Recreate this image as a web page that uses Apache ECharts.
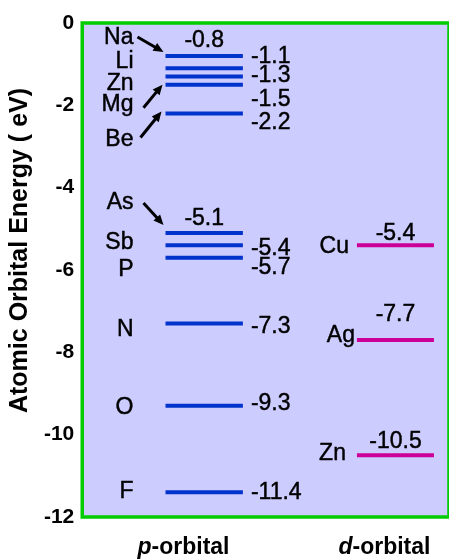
<!DOCTYPE html>
<html><head><meta charset="utf-8">
<script src="https://cdn.jsdelivr.net/npm/echarts@6/dist/echarts.min.js"></script>
<style>html,body{margin:0;padding:0;background:#fff}#c{width:449px;height:559px}</style>
</head><body><div id="c"></div>
<script>
// ---- data ----
const pElements = ['Na', 'Li', 'Zn', 'Mg', 'Be', 'As', 'Sb', 'P', 'N', 'O', 'F'];
const pEnergies = [-0.8, -1.1, -1.3, -1.5, -2.2, -5.1, -5.4, -5.7, -7.3, -9.3, -11.4];
const dElements = ['Cu', 'Ag', 'Zn'];
const dEnergies = [-5.4, -7.7, -10.5];
const orbitalLabels = ['p-orbital', 'd-orbital'];
const yMin = -12, yMax = 0, yStep = 2;

// ---- layout (positions / offsets, not data) ----
const FONT = '"Liberation Sans", Arial, Helvetica, sans-serif';
const X_MAX = 100;
const P_SPAN = [22.7, 43.8];
const D_SPAN = [74.9, 95.9];
const ORBITAL_LABEL_X = [27.6, 82.4];
const P_COLOR = '#0033cc', D_COLOR = '#cc0099';
const LABEL_SIZE = 23;
// name label: [dx from line start, dy from line]
const pNameOff = [[-32,-18],[-32,-6.4],[-32,7.4],[-32,20],[-32,26],[-32,-30],[-32,-3],[-32,12],[-32,6],[-32,2],[-32,-1]];
const dNameOff = [[-8,1],[-2,-4.6],[-11,-2]];
// value label: [placement, dy]
const pValueOff = [['top',-15],['right',-11.4],['right',-0.6],['right',15],['right',9],['top',-14.4],['right',3],['right',10],['right',3],['right',-2.6],['right',0.75]];
const dValueOff = [['top',-11.75],['top',-25.6],['top',-14]];
// arrows: element index -> [tipDx, tipDy, tailDx, tailDy] relative to line start
const pArrows = {0:[-2,-4,-28,-19], 3:[-3,0,-22,23], 4:[-4,-2,-25,24], 5:[-2,-8,-22,-30]};

function textStyle(text, x, y, align) {
  return {text: text, x: x, y: y, align: align, verticalAlign: 'middle', fontSize: LABEL_SIZE,
          fontFamily: FONT, fill: '#000', stroke: '#000', lineWidth: 0.45};
}

function arrowShapes(tip, tail) {
  const dx = tip[0]-tail[0], dy = tip[1]-tail[1];
  const len = Math.sqrt(dx*dx+dy*dy), ux = dx/len, uy = dy/len;
  const hl = 10, hw = 4.5;
  const base = [tip[0]-ux*hl, tip[1]-uy*hl];
  return [
    {type:'line', shape:{x1:tail[0], y1:tail[1], x2:base[0]+ux*2, y2:base[1]+uy*2}, style:{stroke:'#000', lineWidth:3}},
    {type:'polygon', shape:{points:[tip, [base[0]-uy*hw, base[1]+ux*hw], [base[0]+uy*hw, base[1]-ux*hw]]}, style:{fill:'#000'}}
  ];
}

function makeRender(span, names, nameOff, valueOff, color, arrows) {
  return function (params, api) {
    const i = params.dataIndex;
    const v = api.value(0);
    const a = api.coord([span[0], v]);
    const b = api.coord([span[1], v]);
    const ch = [{type:'line', shape:{x1:a[0], y1:a[1], x2:b[0], y2:b[1]}, style:{stroke:color, lineWidth:4}}];
    ch.push({type:'text', style: textStyle(names[i], a[0]+nameOff[i][0], a[1]+nameOff[i][1], 'right')});
    const vo = valueOff[i];
    if (vo[0] === 'top') {
      ch.push({type:'text', style: textStyle(String(v), (a[0]+b[0])/2, a[1]+vo[1], 'center')});
    } else {
      ch.push({type:'text', style: textStyle(String(v), b[0]+8, a[1]+vo[1], 'left')});
    }
    if (arrows && arrows[i]) {
      const ar = arrows[i];
      arrowShapes([a[0]+ar[0], a[1]+ar[1]], [a[0]+ar[2], a[1]+ar[3]]).forEach(s => ch.push(s));
    }
    return {type:'group', children:ch};
  };
}

const chart = echarts.init(document.getElementById('c'), null, {renderer:'canvas'});
chart.setOption({
  animation: false,
  grid: {left: 81.5, right: -3, top: 23, bottom: 41, show: true, backgroundColor: '#ccccff', borderColor: '#00cc00', borderWidth: 3.5},
  xAxis: {
    type: 'value', min: 0, max: X_MAX,
    axisLine: {show: false}, axisTick: {show: false}, splitLine: {show: false},
    axisLabel: {
      customValues: ORBITAL_LABEL_X, margin: 19, color: '#000',
      formatter: function (val) {
        const idx = ORBITAL_LABEL_X.indexOf(val);
        const t = orbitalLabels[idx < 0 ? 0 : idx];
        return '{i|' + t.charAt(0) + '}{n|' + t.slice(1) + '}';
      },
      rich: {
        i: {fontStyle: 'italic', fontWeight: 'bold', fontSize: 23, fontFamily: FONT, color: '#000'},
        n: {fontWeight: 'bold', fontSize: 23, fontFamily: FONT, color: '#000'}
      }
    }
  },
  yAxis: {
    type: 'value', min: yMin, max: yMax, interval: yStep,
    axisLine: {show: false}, axisTick: {show: false}, splitLine: {show: false},
    axisLabel: {margin: 8, color: '#000', fontWeight: 'bold', fontSize: 21, fontFamily: FONT},
    name: 'Atomic Orbital Energy ( eV)', nameLocation: 'middle', nameGap: 40,
    nameTextStyle: {color: '#000', fontWeight: 'bold', fontSize: 25, fontFamily: FONT, padding: [0, 0, 0, 39]}
  },
  series: [
    {type: 'custom', name: 'p-orbital', coordinateSystem: 'cartesian2d', dimensions: ['energy'], encode: {y: 0},
     data: pEnergies.map(e => [e]), clip: false,
     renderItem: makeRender(P_SPAN, pElements, pNameOff, pValueOff, P_COLOR, pArrows)},
    {type: 'custom', name: 'd-orbital', coordinateSystem: 'cartesian2d', dimensions: ['energy'], encode: {y: 0},
     data: dEnergies.map(e => [e]), clip: false,
     renderItem: makeRender(D_SPAN, dElements, dNameOff, dValueOff, D_COLOR, null)}
  ]
});
</script></body></html>
